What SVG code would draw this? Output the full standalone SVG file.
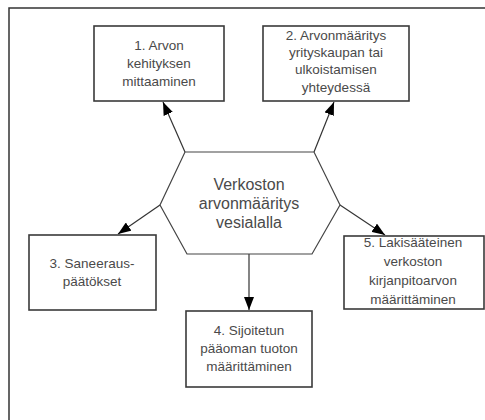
<svg xmlns="http://www.w3.org/2000/svg" width="485" height="420" viewBox="0 0 485 420">
<defs>
<marker id="ah" viewBox="0 0 13 10" refX="13" refY="5" markerWidth="13" markerHeight="10" markerUnits="userSpaceOnUse" orient="auto">
<path d="M0,0 L13,5 L0,10 Z" fill="#000"/>
</marker>
</defs>
<style>
.box{fill:#fff;stroke:#3a3a3a;stroke-width:1.6}
.hex{fill:#fff;stroke:#444;stroke-width:1.2}
.t{font-family:"Liberation Sans",Arial,sans-serif;font-size:13.5px;fill:#4a4a4a;text-anchor:middle}
.th{font-family:"Liberation Sans",Arial,sans-serif;font-size:16px;fill:#4a4a4a;text-anchor:middle}
.c{stroke:#333;stroke-width:1.2;fill:none;marker-end:url(#ah)}
.frame{stroke:#333;stroke-width:1.5;fill:none}
</style>
<rect width="485" height="420" fill="#fff"/>
<path class="frame" d="M9,420 L9,8 L485,8"/>
<g id="connectors">
<line class="c" x1="185" y1="152" x2="163" y2="102"/>
<line class="c" x1="314" y1="152" x2="334" y2="102"/>
<line class="c" x1="160" y1="205" x2="118" y2="234"/>
<line class="c" x1="340" y1="205" x2="385" y2="235"/>
<line class="c" x1="249" y1="254" x2="249" y2="310"/>
</g>
<g id="center">
<polygon class="hex" points="185,152 314,152 340,205 312,254 187,254 160,205"/>
<text class="th" x="249" y="190">Verkoston</text>
<text class="th" x="249" y="209">arvonmääritys</text>
<text class="th" x="249" y="228">vesialalla</text>
</g>
<g id="n1">
<rect class="box" x="94" y="26" width="130" height="75"/>
<text class="t" x="159" y="50">1. Arvon</text>
<text class="t" x="159" y="68">kehityksen</text>
<text class="t" x="159" y="86">mittaaminen</text>
</g>
<g id="n2">
<rect class="box" x="263" y="26" width="146" height="75"/>
<text class="t" x="336" y="40">2. Arvonmääritys</text>
<text class="t" x="336" y="57">yrityskaupan tai</text>
<text class="t" x="336" y="74">ulkoistamisen</text>
<text class="t" x="336" y="92">yhteydessä</text>
</g>
<g id="n3">
<rect class="box" x="29" y="235" width="127" height="75"/>
<text class="t" x="92" y="268">3. Saneeraus-</text>
<text class="t" x="92" y="286">päätökset</text>
</g>
<g id="n4">
<rect class="box" x="186" y="311" width="126" height="76"/>
<text class="t" x="249" y="335">4. Sijoitetun</text>
<text class="t" x="249" y="353">pääoman tuoton</text>
<text class="t" x="249" y="371">määrittäminen</text>
</g>
<g id="n5">
<rect class="box" x="344" y="236" width="140" height="73"/>
<text class="t" x="413" y="247">5. Lakisääteinen</text>
<text class="t" x="413" y="266">verkoston</text>
<text class="t" x="413" y="285">kirjanpitoarvon</text>
<text class="t" x="413" y="304">määrittäminen</text>
</g>
</svg>
